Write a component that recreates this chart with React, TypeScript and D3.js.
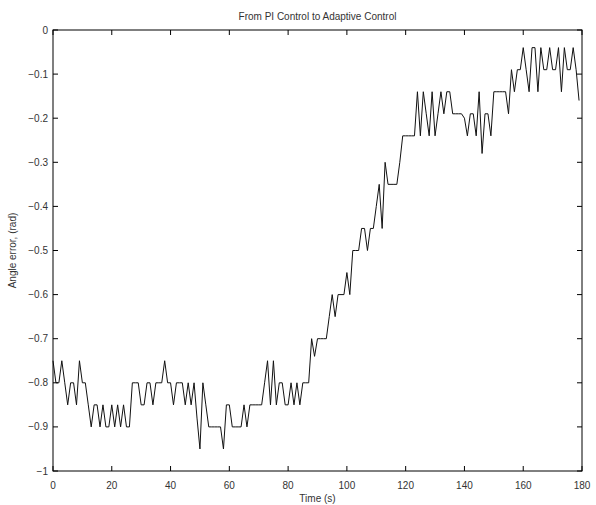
import React from "react";
import * as d3 from "d3";

// Sample values, one per second (t = 0 .. 179 s)
const angleError: number[] = [
  -0.75, -0.8, -0.8, -0.75, -0.8, -0.85, -0.8, -0.8, -0.85, -0.75,
  -0.8, -0.8, -0.85, -0.9, -0.85, -0.85, -0.9, -0.85, -0.9, -0.9,
  -0.85, -0.9, -0.85, -0.9, -0.85, -0.9, -0.9, -0.8, -0.8, -0.8,
  -0.85, -0.85, -0.8, -0.8, -0.85, -0.8, -0.8, -0.8, -0.75, -0.8,
  -0.8, -0.85, -0.8, -0.8, -0.8, -0.85, -0.8, -0.85, -0.8, -0.88,
  -0.95, -0.8, -0.85, -0.9, -0.9, -0.9, -0.9, -0.9, -0.95, -0.85,
  -0.85, -0.9, -0.9, -0.9, -0.9, -0.85, -0.9, -0.85, -0.85, -0.85,
  -0.85, -0.85, -0.8, -0.75, -0.85, -0.75, -0.85, -0.8, -0.8, -0.85,
  -0.85, -0.8, -0.85, -0.8, -0.85, -0.8, -0.8, -0.8, -0.7, -0.74,
  -0.7, -0.7, -0.7, -0.7, -0.65, -0.6, -0.65, -0.6, -0.6, -0.6,
  -0.55, -0.6, -0.5, -0.5, -0.5, -0.45, -0.45, -0.5, -0.45, -0.45,
  -0.4, -0.35, -0.45, -0.3, -0.35, -0.35, -0.35, -0.35, -0.3, -0.24,
  -0.24, -0.24, -0.24, -0.24, -0.14, -0.24, -0.14, -0.19, -0.24, -0.14,
  -0.24, -0.19, -0.14, -0.19, -0.14, -0.14, -0.19, -0.19, -0.19, -0.19,
  -0.2, -0.24, -0.19, -0.19, -0.24, -0.14, -0.28, -0.19, -0.19, -0.24,
  -0.14, -0.14, -0.14, -0.14, -0.14, -0.19, -0.09, -0.14, -0.09, -0.09,
  -0.04, -0.09, -0.14, -0.04, -0.04, -0.14, -0.04, -0.09, -0.09, -0.04,
  -0.09, -0.09, -0.04, -0.14, -0.04, -0.09, -0.09, -0.04, -0.09, -0.16,
];

const xTicks: number[] = [0, 20, 40, 60, 80, 100, 120, 140, 160, 180];
const yTicks: number[] = [0, -0.1, -0.2, -0.3, -0.4, -0.5, -0.6, -0.7, -0.8, -0.9, -1];

const title = "From PI Control to Adaptive Control";
const xLabel = "Time (s)";
const yLabel = "Angle error, (rad)";

const W = 596;
const H = 505;
const L = 53, R = 582, T = 30, B = 471;
const FONT = "'Liberation Sans', Arial, Helvetica, sans-serif";
const TEXT = "#333";

export default function App() {
  const x = d3.scaleLinear().domain([0, 180]).range([L, R]);
  const y = d3.scaleLinear().domain([-1, 0]).range([B, T]);
  const line = d3
    .line<number>()
    .x((_, i) => x(i))
    .y((d) => y(d));
  const fmtY = (v: number) => (v === 0 ? "0" : v === -1 ? "\u22121" : "\u2212" + d3.format(".1f")(-v));
  const tick = 5;
  return (
    <svg
      width={W}
      height={H}
      style={{ position: "absolute", left: 0, top: 0, background: "#fff" }}
      fontFamily={FONT}
    >
      <rect x={0} y={0} width={W} height={H} fill="#fff" />
      <path d={line(angleError) || ""} fill="none" stroke="#111" strokeWidth={1} strokeLinejoin="miter" />
      <rect x={L} y={T} width={R - L} height={B - T} fill="none" stroke="#000" strokeWidth={1} />
      {xTicks.map((t) => (
        <g key={"x" + t}>
          <line x1={x(t)} x2={x(t)} y1={B} y2={B - tick} stroke="#000" />
          <line x1={x(t)} x2={x(t)} y1={T} y2={T + tick} stroke="#000" />
          <text x={x(t)} y={489} textAnchor="middle" fontSize={10} fill={TEXT}>
            {t}
          </text>
        </g>
      ))}
      {yTicks.map((v) => (
        <g key={"y" + v}>
          <line x1={L} x2={L + tick} y1={y(v)} y2={y(v)} stroke="#000" />
          <line x1={R} x2={R - tick} y1={y(v)} y2={y(v)} stroke="#000" />
          <text x={48} y={y(v) + 3.5} textAnchor="end" fontSize={10} fill={TEXT}>
            {fmtY(v)}
          </text>
        </g>
      ))}
      <text x={(L + R) / 2} y={20} textAnchor="middle" fontSize={10} fill={TEXT}>
        {title}
      </text>
      <text x={(L + R) / 2} y={502} textAnchor="middle" fontSize={10} fill={TEXT}>
        {xLabel}
      </text>
      <text
        transform={`translate(16, ${(T + B) / 2}) rotate(-90)`}
        textAnchor="middle"
        fontSize={10}
        fill={TEXT}
      >
        {yLabel}
      </text>
    </svg>
  );
}
